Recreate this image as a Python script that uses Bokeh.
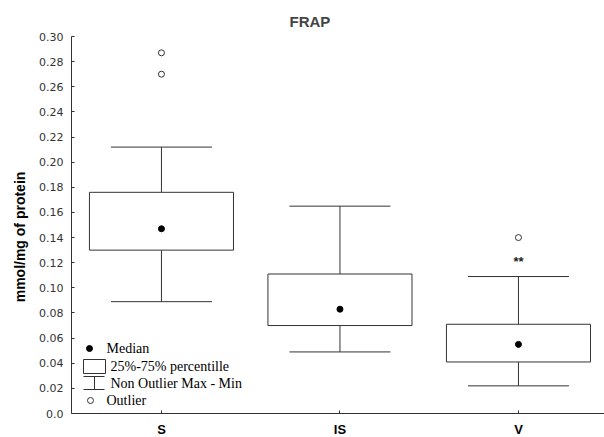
from bokeh.plotting import figure
from bokeh.models import Range1d, FixedTicker, LinearAxis
from bokeh.embed import file_html
from bokeh.resources import INLINE
from bokeh.core.properties import value

# ---- data ----
categories = ["S", "IS", "V"]
whisker_high = [0.212, 0.165, 0.109]
q3 = [0.176, 0.111, 0.071]
medians = [0.147, 0.083, 0.055]
q1 = [0.130, 0.070, 0.041]
whisker_low = [0.089, 0.049, 0.022]
outlier_cats = ["S", "S", "V"]
outlier_vals = [0.287, 0.270, 0.140]
annot_cats = ["V"]
annot_vals = [0.121]
annot_texts = ["**"]
y_tick_values = [0.0, 0.02, 0.04, 0.06, 0.08, 0.10, 0.12, 0.14, 0.16, 0.18, 0.20, 0.22, 0.24, 0.26, 0.28, 0.30]
y_tick_labels = ["0.0", "0.02", "0.04", "0.06", "0.08", "0.10", "0.12", "0.14", "0.16", "0.18", "0.20", "0.22", "0.24", "0.26", "0.28", "0.30"]
legend_labels = ["Median", "25%-75% percentille", "Non Outlier Max - Min", "Outlier"]

pos = {c: i + 1 for i, c in enumerate(categories)}
xs = [pos[c] for c in categories]
ox = [pos[c] for c in outlier_cats]
ax = [pos[c] for c in annot_cats]

LC = "#333333"
BOX_W = 0.807
CAP_W = 0.566
Y_MIN, Y_MAX = 0.0, 0.30
Y_PAD = 24 / 377 * (Y_MAX - Y_MIN)   # room below zero for the category labels

p = figure(width=604, height=437, output_backend="svg", toolbar_location=None,
           x_range=Range1d(0.496, 3.482), y_range=Range1d(Y_MIN - Y_PAD, Y_MAX),
           min_border_left=71, min_border_right=0, min_border_top=36, min_border_bottom=0,
           x_axis_type=None, y_axis_type=None)
p.outline_line_color = None
p.xgrid.visible = False
p.ygrid.visible = False
p.background_fill_color = "white"
p.border_fill_color = "white"

# axes
yaxis = LinearAxis(ticker=FixedTicker(ticks=y_tick_values), bounds=(Y_MIN, Y_MAX),
                   major_label_overrides={v: l for v, l in zip(y_tick_values, y_tick_labels)})
yaxis.axis_label = "mmol/mg of protein"
yaxis.axis_label_text_font = "Liberation Sans"
yaxis.axis_label_text_font_style = "bold"
yaxis.axis_label_text_font_size = "14px"
yaxis.axis_label_text_color = "black"
yaxis.axis_label_standoff = 8
yaxis.major_label_text_font = "DejaVu Sans"
yaxis.major_label_text_font_size = "11px"
yaxis.major_label_text_color = "#333333"
yaxis.major_label_standoff = 8
yaxis.major_tick_in = 3
yaxis.major_tick_out = 0
yaxis.minor_tick_in = 0
yaxis.minor_tick_out = 0
yaxis.axis_line_color = LC
yaxis.major_tick_line_color = LC
p.add_layout(yaxis, "left")

xaxis = LinearAxis(ticker=FixedTicker(ticks=xs), fixed_location=Y_MIN,
                   major_label_overrides={pos[c]: c for c in categories})
xaxis.major_label_text_font = "Liberation Sans"
xaxis.major_label_text_font_style = "bold"
xaxis.major_label_text_font_size = "13px"
xaxis.major_label_text_color = "black"
xaxis.major_label_standoff = 8
xaxis.major_tick_in = 3
xaxis.major_tick_out = 0
xaxis.minor_tick_in = 0
xaxis.minor_tick_out = 0
xaxis.axis_line_color = LC
xaxis.major_tick_line_color = LC
p.add_layout(xaxis, "below")

# title
p.title.text = "FRAP"
p.title.text_font = "Liberation Sans"
p.title.text_font_style = "bold"
p.title.text_font_size = "15px"
p.title.align = "left"
p.title.offset = 218
p.title.standoff = 13

# whisker stems and caps
p.segment(x0=xs, y0=q3, x1=xs, y1=whisker_high, line_color=LC, line_width=1)
p.segment(x0=xs, y0=q1, x1=xs, y1=whisker_low, line_color=LC, line_width=1)
p.segment(x0=[x - CAP_W / 2 for x in xs], y0=whisker_high, x1=[x + CAP_W / 2 for x in xs], y1=whisker_high,
          line_color=LC, line_width=1)
p.segment(x0=[x - CAP_W / 2 for x in xs], y0=whisker_low, x1=[x + CAP_W / 2 for x in xs], y1=whisker_low,
          line_color=LC, line_width=1)
# boxes
p.vbar(x=xs, width=BOX_W, bottom=q1, top=q3, fill_color="white", line_color=LC, line_width=1)
# medians
p.scatter(x=xs, y=medians, size=6, marker="circle", fill_color="black", line_color="black")
# outliers
p.scatter(x=ox, y=outlier_vals, size=6, marker="circle", fill_color="white", line_color=LC, line_width=1)
# annotation
p.text(x=ax, y=annot_vals, text=annot_texts, text_font=value("Liberation Sans"), text_font_style="bold",
       text_font_size="13px", text_align="center", text_baseline="middle", text_color="#222222")

# ---- legend drawn in a pixel-based overlay range (0 = x axis line) ----
p.extra_x_ranges = {"px": Range1d(0, 533)}
p.extra_y_ranges = {"py": Range1d(-24, 377)}
kw = dict(x_range_name="px", y_range_name="py")
p.scatter(x=[18], y=[65], size=6, marker="circle", fill_color="black", line_color="black", **kw)
p.quad(left=[12], right=[34], bottom=[40], top=[54], fill_color="white", line_color=LC, **kw)
p.segment(x0=[12, 12, 23], y0=[37, 24, 24], x1=[33, 33, 23], y1=[37, 24, 37], line_color=LC, **kw)
p.scatter(x=[19], y=[13], size=6, marker="circle", fill_color="white", line_color=LC, **kw)
p.text(x=[35, 39, 39, 35], y=[65, 47, 30, 13], text=legend_labels,
       text_font=value("Liberation Serif"), text_font_size="14px", text_baseline="middle",
       text_color="black", **kw)

open("out.html", "w").write(file_html(p, INLINE))
